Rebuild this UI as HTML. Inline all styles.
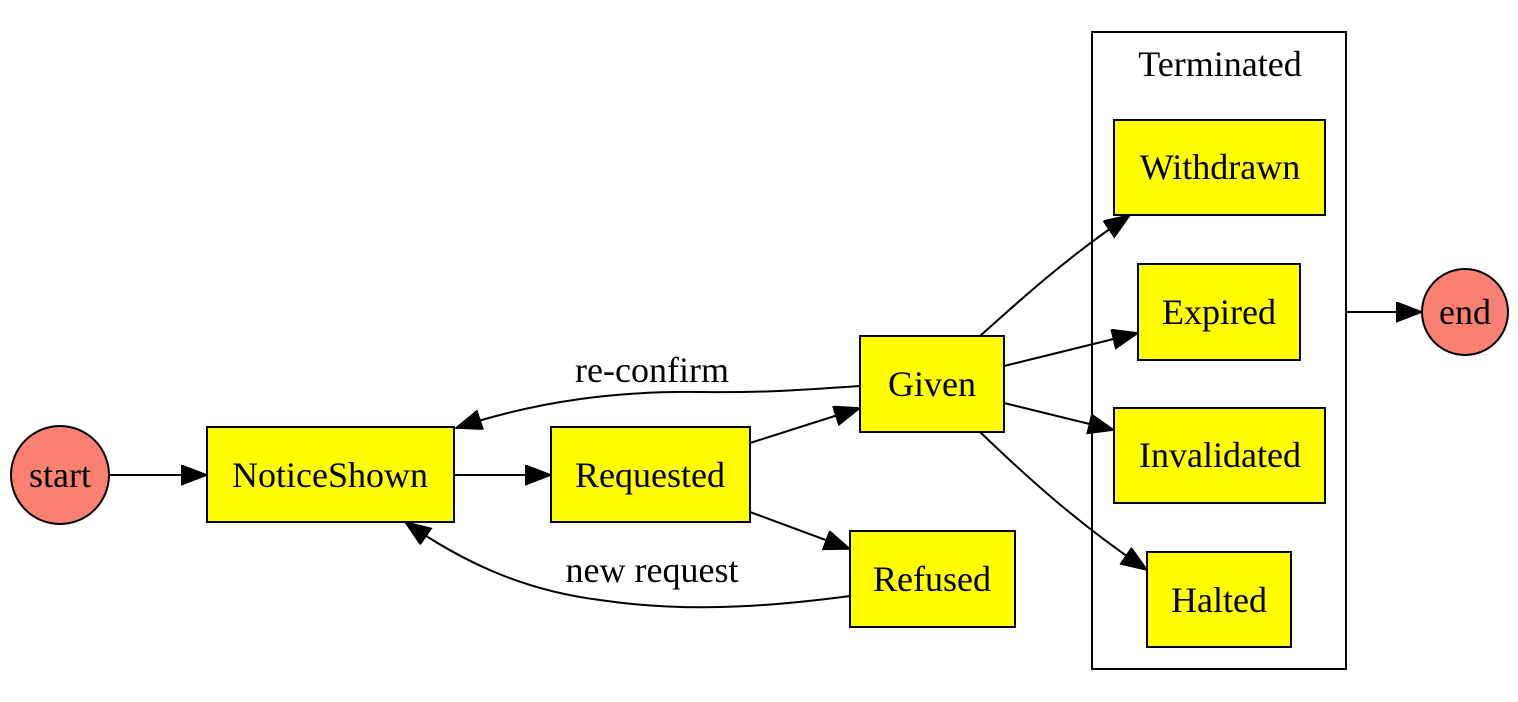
<!DOCTYPE html>
<html><head><meta charset="utf-8"><style>
html,body{margin:0;padding:0;background:#fff;}
svg{display:block;}
text{font-family:"Liberation Serif",serif;font-size:36px;fill:#000;text-anchor:middle;dominant-baseline:central;}
</style></head><body>
<svg width="1518" height="702" viewBox="0 0 1518 702" xmlns="http://www.w3.org/2000/svg">
<defs>
<marker id="a" markerUnits="userSpaceOnUse" markerWidth="30" markerHeight="24" refX="26" refY="10" orient="auto">
<path d="M0,0 L26,10 L0,20 Z" fill="#000" stroke="#000" stroke-width="1.5"/>
</marker>
</defs>
<g fill="none" stroke="#000" stroke-width="2">
<rect x="1092" y="32" width="254" height="637"/>
<path d="M109,475 L207,475" marker-end="url(#a)"/>
<path d="M454,475 L551,475" marker-end="url(#a)"/>
<path d="M750,443 L860,408" marker-end="url(#a)"/>
<path d="M750,512 L850,549" marker-end="url(#a)"/>
<path d="M860,386 C800,390 760,393 700,392 C620,391 540,400 456,428" marker-end="url(#a)"/>
<path d="M850,596 C760,608 680,612 600,600 C520,590 460,560 405,522" marker-end="url(#a)"/>
<path d="M980,336 C1020,300 1070,255 1130,215" marker-end="url(#a)"/>
<path d="M1004,366 L1138,333" marker-end="url(#a)"/>
<path d="M1004,403 L1114,430" marker-end="url(#a)"/>
<path d="M980,432 C1030,480 1080,525 1147,570" marker-end="url(#a)"/>
<path d="M1346,312 L1422,312" marker-end="url(#a)"/>
</g>
<g stroke="#000" stroke-width="2" fill="#ffff00">
<rect x="207" y="427" width="247" height="95"/>
<rect x="551" y="427" width="199" height="95"/>
<rect x="860" y="336" width="144" height="96"/>
<rect x="850" y="531" width="165" height="96"/>
<rect x="1114" y="120" width="211" height="95"/>
<rect x="1138" y="264" width="162" height="96"/>
<rect x="1114" y="408" width="211" height="95"/>
<rect x="1147" y="552" width="144" height="95"/>
</g>
<g stroke="#000" stroke-width="2" fill="#fa8072">
<circle cx="60" cy="475" r="49"/>
<circle cx="1465" cy="312" r="43"/>
</g>
<text x="60" y="475">start</text>
<text x="1465" y="312">end</text>
<text x="330" y="475">NoticeShown</text>
<text x="650" y="475">Requested</text>
<text x="932" y="384">Given</text>
<text x="932" y="579">Refused</text>
<text x="1220" y="64">Terminated</text>
<text x="1220" y="167">Withdrawn</text>
<text x="1219" y="312">Expired</text>
<text x="1220" y="455">Invalidated</text>
<text x="1219" y="600">Halted</text>
<text x="652" y="370">re-confirm</text>
<text x="652" y="570">new request</text>
</svg>
</body></html>
